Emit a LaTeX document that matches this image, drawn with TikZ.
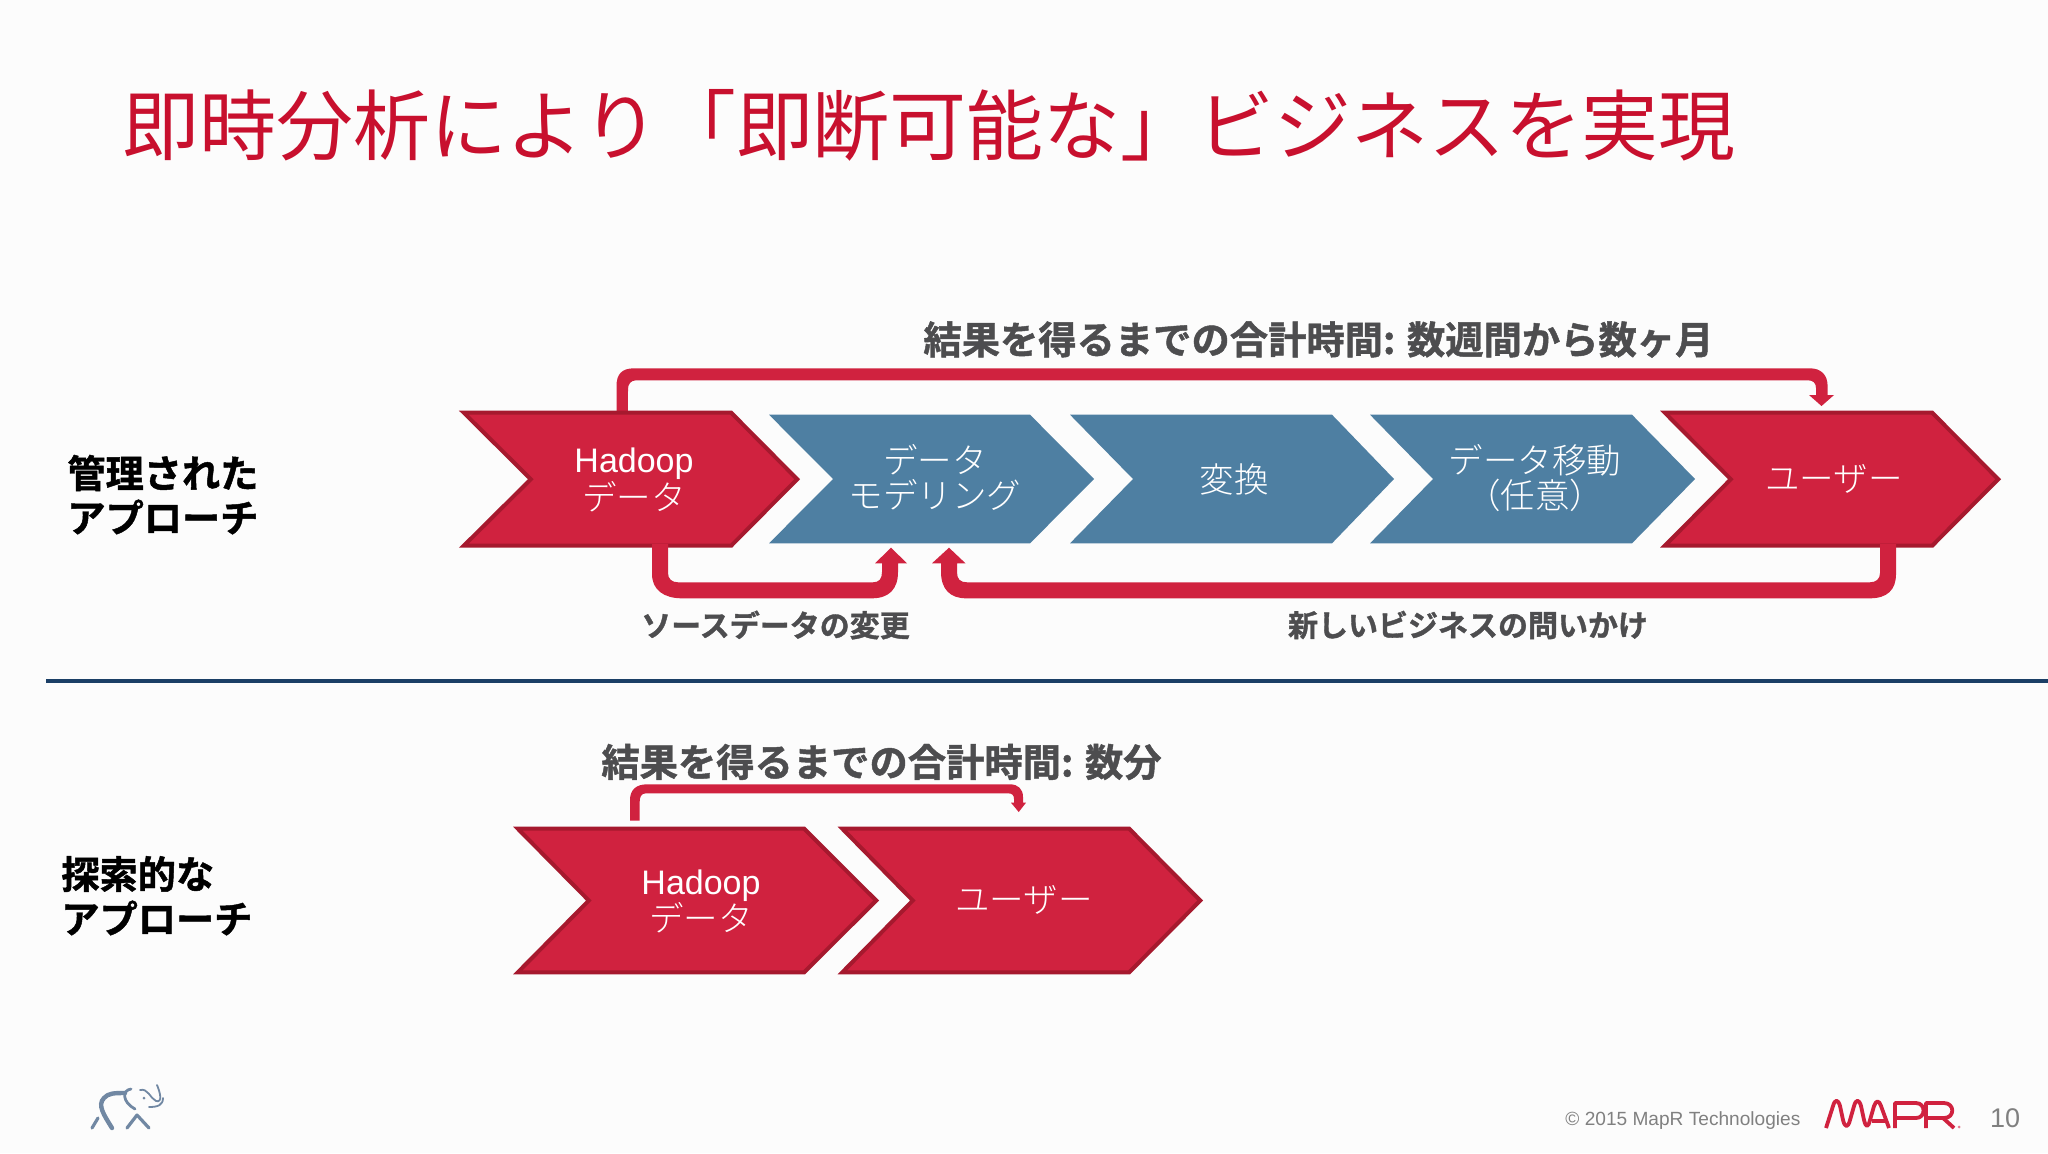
\documentclass[tikz,border=0pt]{standalone}
\usepackage{fontspec}
\setmainfont{Liberation Sans}
\newfontfamily\jpb[FakeBold=1.2]{Noto Sans CJK JP Bold}
\newfontfamily\jpl{Noto Sans CJK JP Light}
\newfontfamily\jpr{Noto Sans CJK JP}
\newcommand{\sz}[1]{\fontsize{#1}{#1}\selectfont}
\definecolor{mred}{HTML}{D0223F}
\definecolor{mdark}{HTML}{A6192E}
\definecolor{mblue}{HTML}{4E7FA2}
\definecolor{mgray}{HTML}{4D4D4F}
\definecolor{mnavy}{HTML}{1B3F66}
\definecolor{mtitle}{HTML}{C8102E}
\definecolor{mele}{HTML}{7188A3}
\tikzset{
  redchev/.style={fill=mred,draw=mdark,line width=2pt,line join=miter},
  bluechev/.style={fill=mblue,draw=none},
  conn/.style={fill=mred,draw=none},
  chevtext/.style={text=white,align=center,inner sep=0pt,font=\jpl\sz{17.25}},
  hadooptext/.style={text=white,inner sep=0pt,font=\sz{17}},
  timetext/.style={text=mgray,inner sep=0pt,font=\jpb\sz{19.15}},
  looptext/.style={text=mgray,inner sep=0pt,font=\jpb\sz{15}},
  sidetext/.style={text=black,inner sep=0pt,anchor=west,font=\jpb\sz{19.1}},
  foot/.style={text=black!50,inner sep=0pt},
  elestroke/.style={draw=mele,line cap=round,line join=round},
  logostroke/.style={draw=mred,line width=1.9pt,line join=round},
}
% chevrons: xl, xtr, xnotch, xtip, ytop, ybot
\newcommand{\redc}[6]{\path[redchev] (#1+4.8,#5+2) -- (#2-0.8,#5+2) -- (#4-2.8,{(#5+#6)/2}) -- (#2-0.8,#6-2) -- (#1+4.8,#6-2) -- (#3+2.8,{(#5+#6)/2}) -- cycle;}
\newcommand{\bluec}[6]{\path[bluechev] (#1,#5) -- (#2,#5) -- (#4,{(#5+#6)/2}) -- (#2,#6) -- (#1,#6) -- (#3,{(#5+#6)/2}) -- cycle;}
\begin{document}
\begin{tikzpicture}[x=0.5pt,y=-0.5pt]
\useasboundingbox (0,0) rectangle (2048,1153);
\fill[white!99!black] (0,0) rectangle (2048,1153);

% title
\node[inner sep=0pt,anchor=west,text=mtitle,font=\jpr\sz{38.45}] (title) at (122,125) {即時分析により「即断可能な」ビジネスを実現};

% connector anchors
\coordinate (t1s) at (622.2,412);
\coordinate (t1e) at (1821.5,406);
\coordinate (s1s) at (660,544);
\coordinate (s1e) at (891,547.7);
\coordinate (q1s) at (1888,544);
\coordinate (q1e) at (949,547.7);
\coordinate (t2s) at (634.8,820.7);
\coordinate (t2e) at (1018.7,812);

% top connector row 1 (behind the chevrons)
\fill[conn] ([xshift=-5.7*0.5pt]t1s) -- (616.5,386) .. controls (616.5,374) and (622,368.3) .. (634,368.3) -- (1810,368.3) .. controls (1821,368.3) and (1827.6,375) .. (1827.6,386) -- (1827.6,395) -- (1834,395) -- (t1e) -- (1809,395) -- (1816,395) -- (1816,388) .. controls (1816,383) and (1813,380.3) .. (1808,380.3) -- (636,380.3) .. controls (631,380.3) and (628,384) .. (628,389) -- ([xshift=5.7*0.5pt]t1s) -- cycle;

% row 1 chevrons
\redc{459}{732}{528}{800}{410.7}{547.7}
\bluec{769}{1030}{833}{1094}{414.7}{543.3}
\bluec{1070}{1332}{1133}{1394}{414.7}{543.3}
\bluec{1370}{1632}{1433}{1695}{414.7}{543.3}
\redc{1660}{1933}{1728}{2001}{410.7}{547.7}

\node[hadooptext] (h1a) at (634,464) {Hadoop};
\node[chevtext] (h1b) at (634,496.5) {データ};
\node[chevtext] (b1a) at (935,460) {データ};
\node[chevtext] (b1b) at (935,495) {モデリング};
\node[chevtext] (b2t) at (1234,479) {変換};
\node[chevtext] (b3a) at (1535,460) {データ移動};
\node[chevtext] (b3b) at (1535,495) {（任意）};
\node[chevtext] (u1) at (1834,479) {ユーザー};

% source-data connector
\fill[conn] ([xshift=-8*0.5pt]s1s) -- (652,574) .. controls (652,590) and (664,598.3) .. (682,598.3) -- (872,598.3) .. controls (889,598.3) and (898,589) .. (898,572) -- (898,563.3) -- (907,563.3) -- (s1e) -- (875,563.3) -- (882,563.3) -- (882,572) .. controls (882,579) and (879,582.3) .. (873,582.3) -- (678,582.3) .. controls (672,582.3) and (668,579) .. (668,573) -- ([xshift=8*0.5pt]s1s) -- cycle;

% new-question connector
\fill[conn] ([xshift=8*0.5pt]q1s) -- (1896,574) .. controls (1896,590) and (1887,598.3) .. (1870,598.3) -- (966,598.3) .. controls (950,598.3) and (941,589) .. (941,572) -- (941,563.3) -- (932,563.3) -- (q1e) -- (965.5,563.3) -- (957,563.3) -- (957,572) .. controls (957,579) and (960,582.3) .. (967,582.3) -- (1870,582.3) .. controls (1876,582.3) and (1880,579) .. (1880,573) -- ([xshift=-8*0.5pt]q1s) -- cycle;

% labels row 1
\node[timetext,anchor=west] (tt1) at (923,339.5) {結果を得るまでの合計時間\textit{:} 数週間から数ヶ月};
\node[looptext] (lsrc) at (775.5,625) {ソースデータの変更};
\node[looptext] (lnew) at (1468,625) {新しいビジネスの問いかけ};
\node[sidetext] (s1a) at (67,473) {管理された};
\node[sidetext] (s1b) at (67,517) {アプローチ};

% divider
\coordinate (dl) at (46,681);
\coordinate (dr) at (2048,681);
\draw[mnavy,line width=2pt] (dl) -- (dr);

% row 2
\redc{513}{805}{586}{879}{826.7}{974.3}
\redc{837.5}{1130}{910}{1203}{826.7}{974.3}
\node[hadooptext] (h2a) at (701,885.5) {Hadoop};
\node[chevtext] (h2b) at (701,918) {データ};
\node[chevtext] (u2) at (1024,900) {ユーザー};

\fill[conn] ([xshift=-4.8*0.5pt]t2s) -- (630,800) .. controls (630,790) and (636,784.3) .. (647,784.3) -- (1010,784.3) .. controls (1018,784.3) and (1023,789) .. (1023,797) -- (1023,802.7) -- (1026,802.7) -- (t2e) -- (1011,802.7) -- (1014,802.7) -- (1014,799) .. controls (1014,795) and (1012,793.3) .. (1008,793.3) -- (646,793.3) .. controls (641,793.3) and (639.6,797) .. (639.6,803) -- ([xshift=4.8*0.5pt]t2s) -- cycle;

\node[timetext,anchor=west] (tt2) at (601,762) {結果を得るまでの合計時間\textit{:} 数分};
\node[sidetext] (s2a) at (61,874) {探索的な};
\node[sidetext] (s2b) at (61,918) {アプローチ};

% footer
\node[foot,anchor=west,font=\sz{9.55}] (copy) at (1565,1120.5) {© 2015 MapR Technologies};
\node[foot,font=\sz{13.5}] (pg) at (2005,1118) {10};

% MapR logo
\begin{scope}[logostroke]
\draw (1826,1128) -- (1833,1106) .. controls (1835,1099) and (1838,1099) .. (1840,1106) -- (1843,1120) .. controls (1845,1128) and (1848,1128) .. (1850,1120) -- (1854,1106) .. controls (1856,1099) and (1859,1099) .. (1861,1106) -- (1864,1120) .. controls (1866,1128) and (1868,1128) .. (1870,1120) -- (1874,1106) .. controls (1876,1100) and (1879,1100) .. (1881,1106) -- (1889,1128);
\draw (1872,1121) -- (1885,1121);
\draw (1895,1128) -- (1895,1103) -- (1916,1103) .. controls (1926,1103) and (1926,1118) .. (1916,1118) -- (1895,1118);
\draw (1926,1128) -- (1926,1103) -- (1944,1103) .. controls (1955,1103) and (1955,1118) .. (1944,1118) -- (1926,1118);
\draw (1943,1118) -- (1954,1128);
\end{scope}
\fill[mred!60] (1959,1127) circle (1.5);

% elephant logo
\begin{scope}[elestroke]
\draw[line width=2.2pt] (112,1128) .. controls (104,1115) and (97,1105) .. (104,1098) .. controls (108,1093) and (115,1093) .. (125,1093);
\draw[line width=1.6pt] (92,1128) -- (98,1118);
\draw[line width=1.6pt] (127,1128) -- (137,1115) -- (149,1128);
\draw[line width=1.4pt] (131,1089) .. controls (122,1090) and (122,1102) .. (135,1109);
\draw[line width=0.9pt] (140,1090) .. controls (148,1088) and (150,1098) .. (156,1101) .. controls (163,1103) and (160,1092) .. (157,1085);
\draw[line width=0.9pt] (149,1107) .. controls (158,1107) and (163,1105) .. (163,1098);
\end{scope}
\fill[mele] (144,1098) circle (1.5);
\end{tikzpicture}
\end{document}
